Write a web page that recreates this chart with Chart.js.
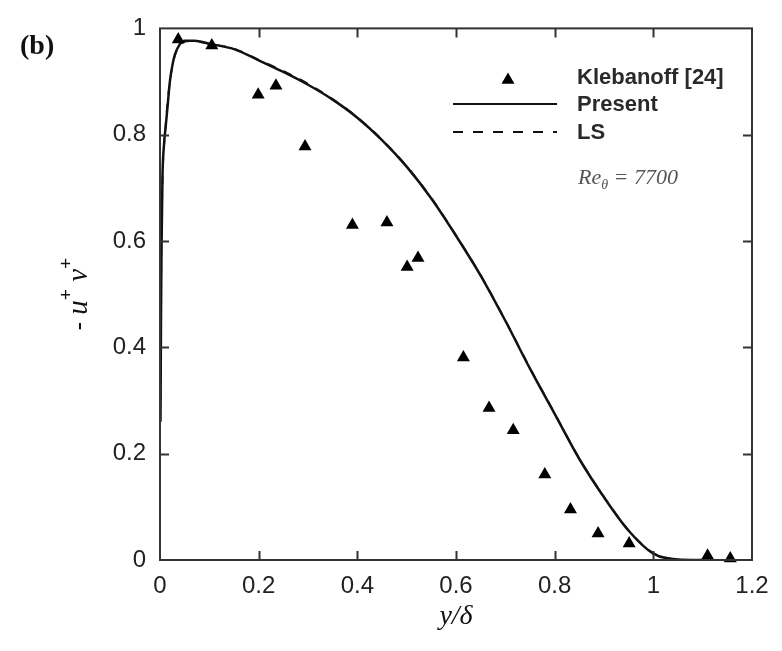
<!DOCTYPE html>
<html>
<head>
<meta charset="utf-8">
<script src="https://cdn.jsdelivr.net/npm/chart.js@4/dist/chart.umd.min.js"></script>
<style>
  html, body { margin: 0; padding: 0; background: #fff; }
  #wrap { width: 782px; height: 651px; position: relative; }
</style>
</head>
<body>
<div id="wrap"><canvas id="myChart" width="782" height="651"></canvas></div>
<script>
// Klebanoff [24] measurements
const klebX = [0.037, 0.105, 0.199, 0.235, 0.294, 0.39, 0.46, 0.501, 0.523, 0.615, 0.667, 0.716, 0.78, 0.832, 0.888, 0.951, 1.11, 1.156];
const klebY = [0.979, 0.968, 0.875, 0.892, 0.778, 0.63, 0.635, 0.551, 0.568, 0.381, 0.286, 0.244, 0.161, 0.095, 0.05, 0.031, 0.008, 0.003];

// present computation
const presentX = [0.001, 0.002, 0.003, 0.005, 0.008, 0.012, 0.016, 0.02, 0.025, 0.03, 0.04, 0.05, 0.07, 0.1, 0.15, 0.2, 0.25, 0.3, 0.35, 0.4, 0.45, 0.5, 0.55, 0.6, 0.65, 0.7, 0.75, 0.8, 0.85, 0.9, 0.95, 1.0, 1.05, 1.1];
const presentY = [0.26, 0.45, 0.58, 0.72, 0.78, 0.82, 0.86, 0.9, 0.93, 0.95, 0.97, 0.977, 0.977, 0.971, 0.961, 0.94, 0.918, 0.894, 0.866, 0.832, 0.79, 0.74, 0.68, 0.61, 0.535, 0.45, 0.36, 0.275, 0.19, 0.118, 0.055, 0.012, 0.001, 0.0];

// LS model
const lsX = [0.001, 0.002, 0.004, 0.006, 0.01, 0.015, 0.02, 0.03, 0.04, 0.06, 0.08, 0.1, 0.15, 0.2, 0.25, 0.3, 0.35, 0.4, 0.45, 0.5, 0.55, 0.6, 0.65, 0.7, 0.75, 0.8, 0.85, 0.9, 0.95, 1.0, 1.05];
const lsY = [0.3, 0.5, 0.66, 0.74, 0.8, 0.86, 0.9, 0.948, 0.968, 0.976, 0.974, 0.971, 0.962, 0.941, 0.92, 0.896, 0.867, 0.833, 0.791, 0.741, 0.681, 0.611, 0.536, 0.451, 0.361, 0.276, 0.191, 0.119, 0.056, 0.013, 0.0];

const xTicks = [0, 0.2, 0.4, 0.6, 0.8, 1, 1.2];
const yTicks = [0, 0.2, 0.4, 0.6, 0.8, 1];

const legendLabels = ["Klebanoff [24]", "Present", "LS"];

const toPoints = (xs, ys) => xs.map((v, i) => ({ x: v, y: ys[i] }));
const tickText = v => String(Math.round(v * 10) / 10);

const SANS = '"Liberation Sans", Arial, sans-serif';
const SERIF = '"Liberation Serif", "Times New Roman", serif';

function triangle(ctx, x, y, r) {
    ctx.beginPath();
    ctx.moveTo(x, y - r);
    ctx.lineTo(x + r * Math.sin(Math.PI / 3), y + r / 2);
    ctx.lineTo(x - r * Math.sin(Math.PI / 3), y + r / 2);
    ctx.closePath();
    ctx.fill();
}

// frame with inward ticks, legend and labels
const decorations = {
    id: "decorations",
    afterDraw(chart) {
        const { ctx, chartArea: a, scales } = chart;
        const x = scales.x, y = scales.y;
        ctx.save();
        ctx.strokeStyle = "#333";
        ctx.lineWidth = 2;
        ctx.strokeRect(a.left, a.top, a.right - a.left, a.bottom - a.top);

        ctx.beginPath();
        xTicks.slice(1, -1).forEach(v => {
            const px = Math.round(x.getPixelForValue(v)) + 0.5;
            ctx.moveTo(px, a.bottom); ctx.lineTo(px, a.bottom - 9);
            ctx.moveTo(px, a.top); ctx.lineTo(px, a.top + 9);
        });
        yTicks.slice(1, -1).forEach(v => {
            const py = Math.round(y.getPixelForValue(v)) + 0.5;
            ctx.moveTo(a.left, py); ctx.lineTo(a.left + 9, py);
            ctx.moveTo(a.right, py); ctx.lineTo(a.right - 9, py);
        });
        ctx.stroke();

        // legend
        ctx.fillStyle = "#000";
        triangle(ctx, 508, 80, 7.5);
        ctx.strokeStyle = "#111";
        ctx.lineWidth = 2.2;
        ctx.beginPath();
        ctx.moveTo(453, 104); ctx.lineTo(557, 104);
        ctx.stroke();
        ctx.setLineDash([10, 10]);
        ctx.beginPath();
        ctx.moveTo(453, 132); ctx.lineTo(557, 132);
        ctx.stroke();
        ctx.setLineDash([]);

        ctx.fillStyle = "#2a2a2a";
        ctx.font = "bold 22px " + SANS;
        ctx.textBaseline = "middle";
        ctx.textAlign = "left";
        ctx.fillText(legendLabels[0], 577, 78);
        ctx.fillText(legendLabels[1], 577, 105);
        ctx.fillText(legendLabels[2], 577, 133);

        // Reynolds number
        ctx.fillStyle = "#555";
        ctx.font = "italic 22px " + SERIF;
        ctx.textBaseline = "alphabetic";
        ctx.fillText("Re", 578, 184);
        let w = ctx.measureText("Re").width;
        ctx.font = "italic 14px " + SERIF;
        ctx.fillText("\u03b8", 578 + w, 189);
        w += ctx.measureText("\u03b8").width;
        ctx.font = "italic 22px " + SERIF;
        ctx.fillText(" = 7700", 578 + w, 184);

        // panel label
        ctx.fillStyle = "#111";
        ctx.font = "bold 28px " + SERIF;
        ctx.fillText("(b)", 20, 54);

        // x axis title
        ctx.textAlign = "center";
        ctx.font = "italic 28px " + SERIF;
        ctx.fillText("y/\u03b4", (a.left + a.right) / 2, 624);

        // y axis title: - u+ v+
        ctx.save();
        ctx.translate(87, (a.top + a.bottom) / 2);
        ctx.rotate(-Math.PI / 2);
        ctx.textAlign = "left";
        const parts = [
            ["-", "26px " + SANS, 0],
            [" u", "italic 29px " + SERIF, 0],
            ["+", "19px " + SANS, -15],
            [" v", "italic 29px " + SERIF, 0],
            ["+", "19px " + SANS, -15],
        ];
        let total = 0;
        parts.forEach(p => { ctx.font = p[1]; total += ctx.measureText(p[0]).width; });
        let cx = -total / 2;
        parts.forEach(p => {
            ctx.font = p[1];
            ctx.fillText(p[0], cx, p[2]);
            cx += ctx.measureText(p[0]).width;
        });
        ctx.restore();

        ctx.restore();
    }
};

const ctx = document.getElementById("myChart").getContext("2d");
const myChart = new Chart(ctx, {
    type: "scatter",
    data: {
        datasets: [
            {
                label: legendLabels[0],
                data: toPoints(klebX, klebY),
                pointStyle: "triangle",
                pointRadius: 7.5,
                backgroundColor: "#000",
                borderColor: "#000",
                borderWidth: 0,
                clip: false,
            },
            {
                label: legendLabels[1],
                data: toPoints(presentX, presentY),
                showLine: true,
                pointRadius: 0,
                borderColor: "#111",
                borderWidth: 2.5,
                cubicInterpolationMode: "monotone",
                fill: false,
            },
            {
                label: legendLabels[2],
                data: toPoints(lsX, lsY),
                showLine: true,
                pointRadius: 0,
                borderColor: "#222",
                borderWidth: 1.8,
                borderDash: [9, 9],
                cubicInterpolationMode: "monotone",
                fill: false,
            },
        ],
    },
    options: {
        responsive: false,
        animation: false,
        events: [],
        plugins: {
            legend: { display: false },
            tooltip: { enabled: false },
        },
        layout: {
            padding: { top: 23, right: 30, left: 0, bottom: 0 },
        },
        scales: {
            x: {
                type: "linear",
                min: 0,
                max: 1.2,
                afterBuildTicks: s => { s.ticks = xTicks.map(v => ({ value: v })); },
                afterFit: s => { s.height = 91; },
                grid: { display: false, drawTicks: false },
                border: { display: false },
                ticks: {
                    color: "#222",
                    padding: 12,
                    maxRotation: 0,
                    callback: tickText,
                    font: { family: SANS, size: 24 },
                },
            },
            y: {
                type: "linear",
                min: 0,
                max: 1,
                afterBuildTicks: s => { s.ticks = yTicks.map(v => ({ value: v })); },
                afterFit: s => { s.width = 160; },
                grid: { display: false, drawTicks: false },
                border: { display: false },
                ticks: {
                    color: "#222",
                    padding: 14,
                    callback: tickText,
                    font: { family: SANS, size: 24 },
                },
            },
        },
    },
    plugins: [decorations],
});
</script>
</body>
</html>
